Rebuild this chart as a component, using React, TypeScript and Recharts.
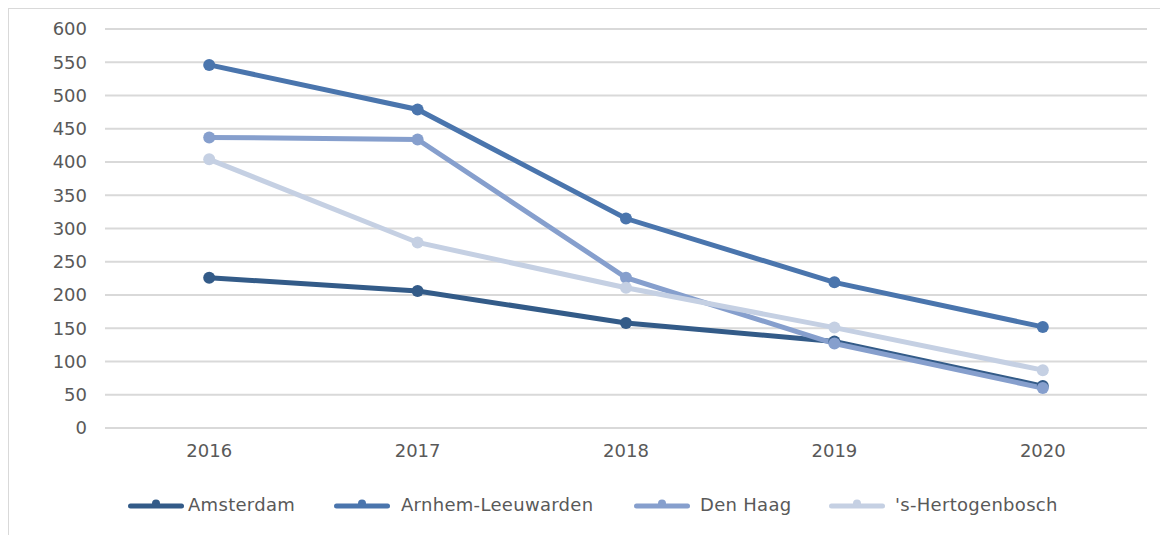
import React from "react";
import { LineChart, Line, XAxis, YAxis, CartesianGrid, Legend } from "recharts";

const years = ["2016", "2017", "2018", "2019", "2020"];
const amsterdam = [226, 206, 158, 130, 63];
const arnhemLeeuwarden = [546, 479, 315, 219, 152];
const denHaag = [437, 434, 226, 127, 60];
const hertogenbosch = [404, 279, 211, 151, 87];
const yTicks = [0, 50, 100, 150, 200, 250, 300, 350, 400, 450, 500, 550, 600];

const seriesNames = ["Amsterdam", "Arnhem-Leeuwarden", "Den Haag", "'s-Hertogenbosch"];
const seriesColors = ["#335b88", "#4a75ad", "#869fcd", "#c5d0e3"];
const seriesValues = [amsterdam, arnhemLeeuwarden, denHaag, hertogenbosch];

const data = years.map((y, i) => {
  const row: Record<string, string | number> = { year: y };
  seriesNames.forEach((n, k) => {
    row[n] = seriesValues[k][i];
  });
  return row;
});

const FONT = "'DejaVu Sans', Verdana, sans-serif";

const legendPos = [
  { line: 116, text: 179 },
  { line: 322, text: 392 },
  { line: 622, text: 691 },
  { line: 817, text: 886 },
];

const LegendContent = () => (
  <div style={{ position: "relative", width: 1158, height: 30 }}>
    {seriesNames.map((n, k) => (
      <div key={n} style={{ position: "absolute", left: legendPos[k].line, top: 0, height: 30 }}>
        <svg width={62} height={30} style={{ position: "absolute", left: 0, top: 0 }}>
          <circle cx={31} cy={12.5} r={4} fill={seriesColors[k]} />
          <line x1={5.5} y1={15} x2={56.5} y2={15} stroke={seriesColors[k]} strokeWidth={5} strokeLinecap="round" />
        </svg>
        <span
          style={{
            position: "absolute",
            left: legendPos[k].text - legendPos[k].line,
            top: 3,
            fontFamily: FONT,
            fontSize: 18,
            letterSpacing: 0.3,
            color: "#595959",
            whiteSpace: "nowrap",
          }}
        >
          {n}
        </span>
      </div>
    ))}
  </div>
);

export default function App() {
  return (
    <div
      style={{
        width: 1160,
        height: 528,
        borderTop: "2px solid #d9d9d9",
        borderLeft: "2px solid #d9d9d9",
        boxSizing: "border-box",
        marginLeft: -1,
        marginTop: -1,
        background: "#fff",
      }}
    >
      <LineChart
        width={1158}
        height={526}
        data={data}
        margin={{ top: 20, right: 20, bottom: 0, left: 0 }}
      >
        <CartesianGrid vertical={false} stroke="#d9d9d9" strokeWidth={2} />
        <XAxis
          dataKey="year"
          scale="band"
          axisLine={false}
          tickLine={false}
          tickSize={0}
          tickMargin={16}
          height={107}
          tick={{ fill: "#595959", fontSize: 18, fontFamily: FONT }}
        />
        <YAxis
          domain={[0, 600]}
          ticks={yTicks}
          interval={0}
          axisLine={false}
          tickLine={false}
          tickSize={0}
          tickMargin={18}
          width={96}
          tick={{ fill: "#595959", fontSize: 18, fontFamily: FONT }}
        />
        <Legend
          verticalAlign="middle"
          layout="horizontal"
          content={<LegendContent />}
          wrapperStyle={{ top: 482, left: 0, width: 1158 }}
        />
        {seriesNames.map((n, k) => (
          <Line
            key={n}
            dataKey={n}
            stroke={seriesColors[k]}
            strokeWidth={5}
            dot={{ r: 6, fill: seriesColors[k], stroke: seriesColors[k], strokeWidth: 0 }}
            activeDot={false}
            isAnimationActive={false}
          />
        ))}
      </LineChart>
    </div>
  );
}
